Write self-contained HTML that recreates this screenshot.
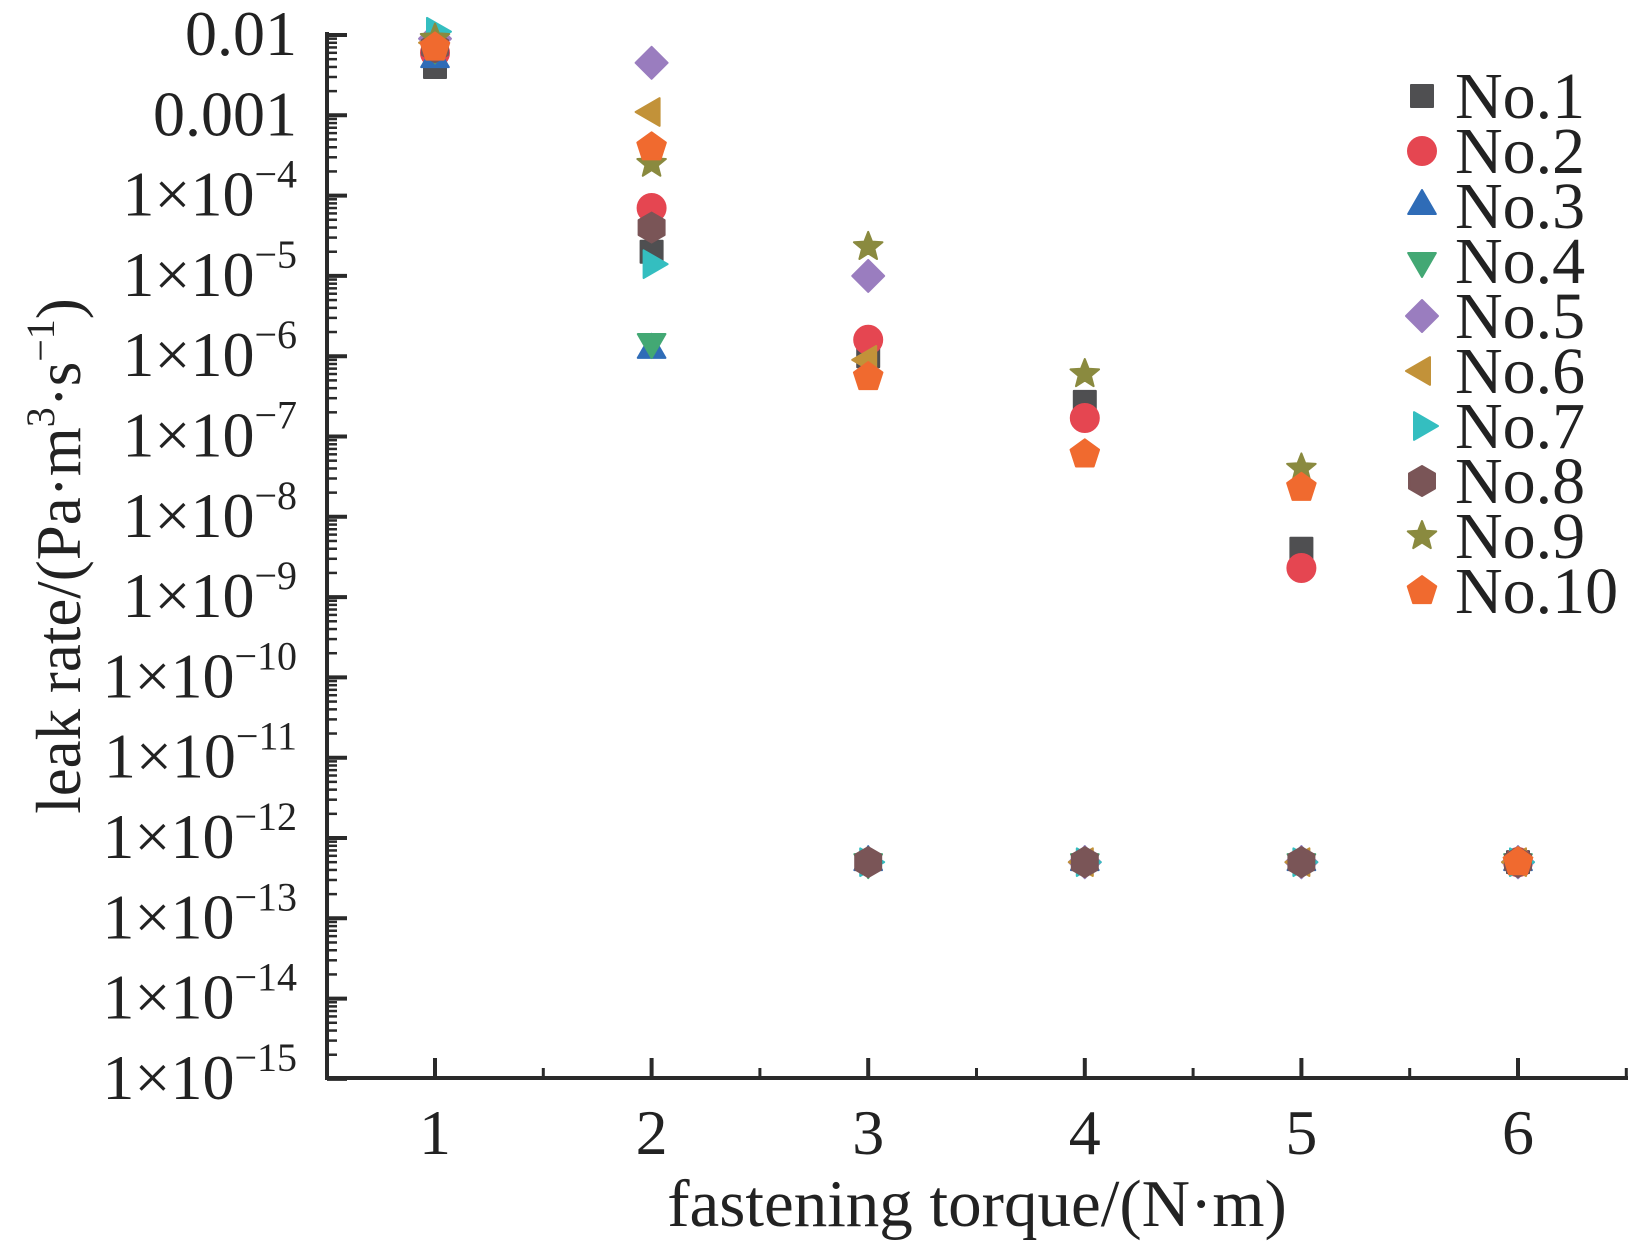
<!DOCTYPE html>
<html><head><meta charset="utf-8"><style>
html,body{margin:0;padding:0;background:#fff;}
svg{display:block;font-family:"Liberation Serif",serif;fill:#222;}
</style></head><body>
<svg id="chart" width="1630" height="1244" viewBox="0 0 1630 1244"></svg>
<script>
const categories = [1,2,3,4,5,6];
const seriesNames = ["No.1","No.2","No.3","No.4","No.5","No.6","No.7","No.8","No.9","No.10"];
const s1 = [4e-3, 2e-5, 1e-6, 2.7e-7, 4e-9, 5e-13];
const s2 = [6e-3, 7e-5, 1.6e-6, 1.7e-7, 2.3e-9, 5e-13];
const s3 = [5e-3, 1.2e-6, 5e-13, 5e-13, 5e-13, 5e-13];
const s4 = [7e-3, 1.5e-6, 5e-13, 5e-13, 5e-13, 5e-13];
const s5 = [9e-3, 4.5e-3, 1e-5, 5e-13, 5e-13, 5e-13];
const s6 = [8e-3, 1.1e-3, 9e-7, 5e-13, 5e-13, 5e-13];
const s7 = [1.1e-2, 1.4e-5, 5e-13, 5e-13, 5e-13, 5e-13];
const s8 = [7e-3, 4e-5, 5e-13, 5e-13, 5e-13, 5e-13];
const s9 = [9e-3, 2.5e-4, 2.3e-5, 6e-7, 4e-8, 5e-13];
const s10 = [7e-3, 4e-4, 5.5e-7, 6e-8, 2.3e-8, 5e-13];
const yTickExps = [-2,-3,-4,-5,-6,-7,-8,-9,-10,-11,-12,-13,-14,-15];
const xTickLabels = ["1","2","3","4","5","6"];

const series=[s1,s2,s3,s4,s5,s6,s7,s8,s9,s10];
const colors=["#4f4f51","#e54651","#2f6cb7","#43a874","#9a7dbf","#c29239","#34bec0","#7a5557","#8a8a3f","#f06a2f"];
const shapes=["square","circle","up","down","diamond","left","right","hex","star","pent"];
const NS="http://www.w3.org/2000/svg";
const svg=document.getElementById("chart");
const X0=327, X1=1628, YTOP=35, DEC=80.3, YBOT=1078;
function xScale(v){return 435+(v-1)*216.6;}
function yScale(v){return YTOP+(-2-Math.log10(v))*DEC;}
function el(tag,attrs,parent){const e=document.createElementNS(NS,tag);for(const k in attrs)e.setAttribute(k,attrs[k]);(parent||svg).appendChild(e);return e;}

const ax=el("path",{d:`M${X0} ${YTOP-3} V${YBOT} H${X1}`,stroke:"#2a2a2a","stroke-width":4,fill:"none"});


yTickExps.forEach(e=>{
  const y=yScale(Math.pow(10,e));
  const t=el("line",{x1:X0,x2:X0+20,y1:y,y2:y,stroke:"#2a2a2a","stroke-width":4});
  
  
  if(e>-15){for(let m=2;m<=9;m++){const ym=yScale(m*Math.pow(10,e-1));
    const mt=el("line",{x1:X0,x2:X0+10,y1:ym,y2:ym,stroke:"#2a2a2a","stroke-width":2.5});
    
    }}
  const tx=el("text",{x:297,y:y+20,"text-anchor":"end","font-size":64});
  
  
  if(e===-2) tx.textContent="0.01";
  else if(e===-3) tx.textContent="0.001";
  else {tx.textContent="1×10";const sp=el("tspan",{dy:-28,"font-size":40},tx);sp.textContent="−"+(-e);}
});
categories.forEach((c,i)=>{
  const x=xScale(c);
  const t=el("line",{x1:x,x2:x,y1:YBOT,y2:YBOT-20,stroke:"#2a2a2a","stroke-width":4});
  
  
  const xm=xScale(c+0.5);
  if(xm<X1){const mt=el("line",{x1:xm,x2:xm,y1:YBOT,y2:YBOT-10,stroke:"#2a2a2a","stroke-width":3});
    
    }
  const tx=el("text",{x:x,y:1154,"text-anchor":"middle","font-size":64});
  
  
  tx.textContent=xTickLabels[i];
});
const xt=el("text",{x:977,y:1226,"text-anchor":"middle","font-size":67});


xt.textContent="fastening torque/(N·m)";
const yt=el("text",{x:0,y:0,"text-anchor":"middle","font-size":63,transform:"translate(80,556) rotate(-90)"});


yt.textContent="leak rate/(Pa·m";
let sp=el("tspan",{dy:-26,"font-size":40},yt);sp.textContent="3";
sp=el("tspan",{dy:26},yt);sp.textContent="·s";
sp=el("tspan",{dy:-26,"font-size":40},yt);sp.textContent="−1";
sp=el("tspan",{dy:26},yt);sp.textContent=")";

function marker(shape,cx,cy,color,parent){
  const r=14;let e;
  if(shape==="circle") e=el("circle",{cx:cx,cy:cy,r:r},parent);
  else if(shape==="square") e=el("rect",{x:cx-11,y:cy-11,width:22,height:22},parent);
  else {
    let pts=[];
    const poly=(n,rad,rot)=>{for(let k=0;k<n;k++){const a=rot+k*2*Math.PI/n;pts.push([cx+rad*Math.cos(a),cy+rad*Math.sin(a)]);}};
    if(shape==="up") poly(3,16,-Math.PI/2);
    else if(shape==="down") poly(3,16,Math.PI/2);
    else if(shape==="left") poly(3,16,Math.PI);
    else if(shape==="right") poly(3,16,0);
    else if(shape==="diamond") poly(4,16,-Math.PI/2);
    else if(shape==="hex") poly(6,15,-Math.PI/2);
    else if(shape==="pent") poly(5,15,-Math.PI/2);
    else if(shape==="star"){for(let k=0;k<10;k++){const a=-Math.PI/2+k*Math.PI/5;const rr=k%2?6.5:15;pts.push([cx+rr*Math.cos(a),cy+rr*Math.sin(a)]);}}
    e=el("polygon",{points:pts.map(p=>p.join(",")).join(" ")},parent);
  }
  e.setAttribute("fill",color);
  e.setAttribute("stroke",color);
  e.setAttribute("stroke-linejoin","round");
  e.setAttribute("stroke-width",2);
  return e;
}
series.forEach((s,si)=>{
  const g=el("g",{});
  
  
  s.forEach((v,i)=>{
    const m=marker(shapes[si],xScale(categories[i]),yScale(v),colors[si],g);
    
    
  });
});
const lg=el("g",{});


seriesNames.forEach((n,i)=>{
  const y=96+i*55;
  const g=el("g",{},lg);
  
  
  marker(shapes[i],1422,y,colors[i],g);
  const t=el("text",{x:1455,y:y+22,"font-size":66},g);
  t.textContent=n;
});
</script>
</body></html>
